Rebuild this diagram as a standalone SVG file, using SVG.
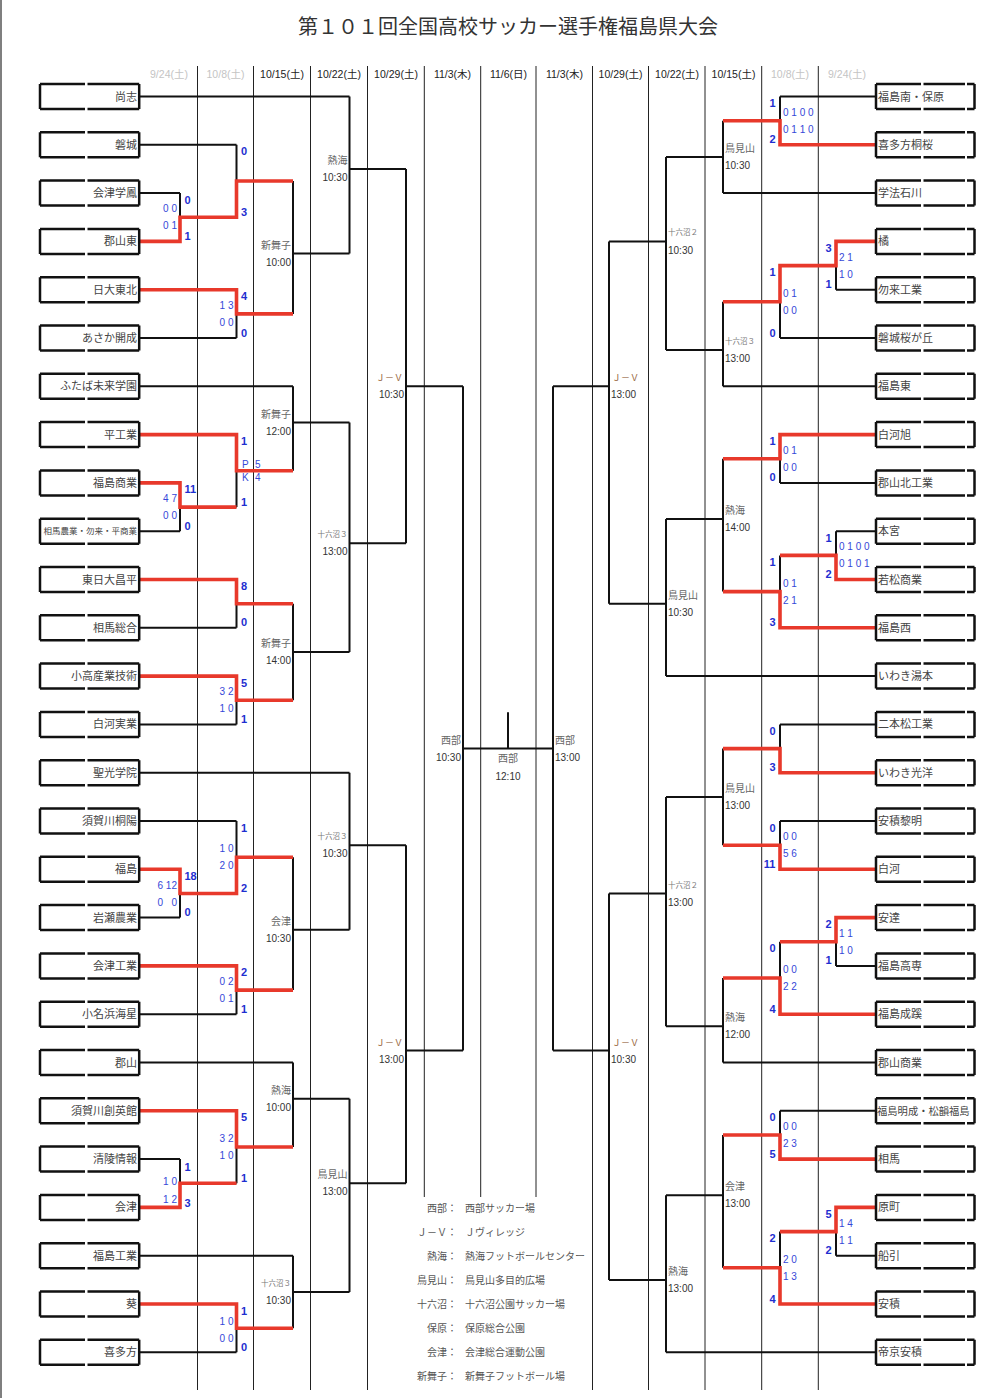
<svg xmlns="http://www.w3.org/2000/svg" xmlns:xlink="http://www.w3.org/1999/xlink" width="1006" height="1398" viewBox="0 0 1006 1398">
<style>
.jp{font-family:"Noto Sans CJK JP","Noto Sans",sans-serif}
.num{font-family:"Liberation Sans","Noto Sans CJK JP",sans-serif}
.title{font-size:20px;fill:#333;text-anchor:middle}
.hd{font-size:10.5px;fill:#222;text-anchor:middle}
.hdg{font-size:10.5px;fill:#c4c4c4;text-anchor:middle}
.tl{font-size:11px;fill:#444;text-anchor:end}
.tr{font-size:11px;fill:#444;text-anchor:start}
.box{fill:none;stroke:#111;stroke-width:2.5}
.col{stroke:#222;stroke-width:1;fill:none}
.blk{stroke:#111;stroke-width:2;fill:none}
.red{stroke:#e8392b;stroke-width:3.6;fill:none;stroke-linejoin:miter}
.sc{font-size:11px;font-weight:bold;fill:#1e2ed0}
.hf{font-size:10px;fill:#3547d8}
.ve{font-size:10px;fill:#666}
.vs{font-size:7.5px;fill:#777}
.tm{font-size:10px;fill:#333}
.jv{font-size:9px;fill:#9a6b45}
.lg{font-size:10px;fill:#555}
.L{text-anchor:end}
.R{text-anchor:start}
.C{text-anchor:middle}
</style>
<defs>
<path id="boxL" class="box" d="M40,-12.5V12.5M139.2,-12.5V12.5M40,-12.5H85M87.5,-12.5H139.2M40,12.5H85M87.5,12.5H139.2"/>
<path id="boxR" class="box" d="M876,-12.5V12.5M974.5,-12.5V12.5M876,-12.5H921M923.5,-12.5H965M967,-12.5H974.5M876,12.5H921M923.5,12.5H965M967,12.5H974.5"/>
</defs>
<rect x="0" y="0" width="1006" height="1398" fill="#fff"/>
<line x1="1" y1="0" x2="1" y2="1398" stroke="#555" stroke-width="1.5"/>
<text class="jp title" x="508" y="34">第１０１回全国高校サッカー選手権福島県大会</text>
<g id="header" class="num">
<text class="hdg" x="169" y="78">9/24(土)</text>
<text class="hdg" x="225.5" y="78">10/8(土)</text>
<text class="hd" x="282" y="78">10/15(土)</text>
<text class="hd" x="339" y="78">10/22(土)</text>
<text class="hd" x="396" y="78">10/29(土)</text>
<text class="hd" x="452.5" y="78">11/3(木)</text>
<text class="hd" x="508.5" y="78">11/6(日)</text>
<text class="hd" x="564.5" y="78">11/3(木)</text>
<text class="hd" x="620.5" y="78">10/29(土)</text>
<text class="hd" x="677" y="78">10/22(土)</text>
<text class="hd" x="733.5" y="78">10/15(土)</text>
<text class="hdg" x="790" y="78">10/8(土)</text>
<text class="hdg" x="847" y="78">9/24(土)</text>
</g>
<g id="columns" class="col">
<line x1="197.5" y1="66" x2="197.5" y2="1390"/>
<line x1="253.5" y1="66" x2="253.5" y2="1390"/>
<line x1="310.5" y1="66" x2="310.5" y2="1390"/>
<line x1="367.5" y1="66" x2="367.5" y2="1390"/>
<line x1="424.3" y1="66" x2="424.3" y2="1197"/>
<line x1="480.7" y1="66" x2="480.7" y2="1197"/>
<line x1="536" y1="66" x2="536" y2="1197"/>
<line x1="592.5" y1="66" x2="592.5" y2="1390"/>
<line x1="648.5" y1="66" x2="648.5" y2="1390"/>
<line x1="705" y1="66" x2="705" y2="1390"/>
<line x1="761.7" y1="66" x2="761.7" y2="1390"/>
<line x1="818.3" y1="66" x2="818.3" y2="1390"/>
</g>
<g id="connectors">
<path class="blk" d="M140,96.5H349.5M140,144.8H236.5M140,193.1H180M140,241.4H180M140,289.7H236.5M140,338H236.5M140,386.3H293M140,434.6H236.5M140,482.9H180M140,531.2H180M140,579.5H236.5M140,627.8H236.5M140,676.1H236.5M140,724.4H236.5M140,772.7H349.5M140,821H236.5M140,869.3H180M140,917.6H180M140,965.9H236.5M140,1014.2H236.5M140,1062.5H293M140,1110.8H236.5M140,1159.1H180M140,1207.4H180M140,1255.7H293M140,1304H236.5M140,1352.3H236.5
M180,193.1V241.4M180,217.3H236.5M180,482.9V531.2M180,507.1H236.5M180,869.3V917.6M180,893.5H236.5M180,1159.1V1207.4M180,1183.3H236.5
M236.5,144.8V217.3M236.5,181H293M236.5,289.7V338M236.5,313.9H293M236.5,434.6V507.1M236.5,470.8H293M236.5,579.5V627.8M236.5,603.7H293M236.5,676.1V724.4M236.5,700.3H293M236.5,821V893.5M236.5,857.2H293M236.5,965.9V1014.2M236.5,990.1H293M236.5,1110.8V1183.3M236.5,1147H293M236.5,1304V1352.3M236.5,1328.2H293
M293,181V313.9M293,253.5H349.5M293,386.3V470.8M293,422.5H349.5M293,603.7V700.3M293,652H349.5M293,857.2V990.1M293,929.7H349.5M293,1062.5V1147M293,1098.7H349.5M293,1255.7V1328.2M293,1291.9H349.5
M349.5,96.5V253.5M349.5,169H406M349.5,422.5V652M349.5,543.3H406M349.5,772.7V929.7M349.5,845.2H406M349.5,1098.7V1291.9M349.5,1183.3H406
M406,169V543.3M406,386.3H463M406,845.2V1183.3M406,1050.4H463
M463,386.3V1050.4M463,748.6H553M508,712.3V748.6M553,386.3V1050.4
M609,241.4V603.7M609,386.3H553M609,893.5V1279.9M609,1050.4H553
M666,156.9V350.1M666,241.4H609M666,519.1V676.1M666,603.7H609M666,796.9V1026.3M666,893.5H609M666,1195.3V1352.3M666,1279.9H609
M723,120.7V193.1M723,156.9H666M723,301.8V386.3M723,350.1H666M723,458.8V591.6M723,519.1H666M723,748.6V845.2M723,796.9H666M723,978V1062.5M723,1026.3H666M723,1135V1267.8M723,1195.3H666
M780,96.5V144.8M780,120.7H723M780,265.6V338M780,301.8H723M780,434.6V482.9M780,458.8H723M780,555.4V627.8M780,591.6H723M780,724.4V772.7M780,748.6H723M780,821V869.3M780,845.2H723M780,941.8V1014.2M780,978H723M780,1110.8V1159.1M780,1135H723M780,1231.6V1304M780,1267.8H723
M836,241.4V289.7M836,265.6H780M836,531.2V579.5M836,555.4H780M836,917.6V965.9M836,941.8H780M836,1207.4V1255.7M836,1231.6H780
M876,96.5H780M876,144.8H780M876,193.1H723M876,241.4H836M876,289.7H836M876,338H780M876,386.3H723M876,434.6H780M876,482.9H780M876,531.2H836M876,579.5H836M876,627.8H780M876,676.1H666M876,724.4H780M876,772.7H780M876,821H780M876,869.3H780M876,917.6H836M876,965.9H836M876,1014.2H780M876,1062.5H723M876,1110.8H780M876,1159.1H780M876,1207.4H836M876,1255.7H836M876,1304H780M876,1352.3H666"/>
<path class="red" d="M140,241.4H180V217.3H236.5V181H293
M140,289.7H236.5V313.9H293
M140,434.6H236.5V470.8H293
M140,482.9H180V507.1H236.5
M140,579.5H236.5V603.7H293
M140,676.1H236.5V700.3H293
M140,869.3H180V893.5H236.5V857.2H293
M140,965.9H236.5V990.1H293
M140,1110.8H236.5V1147H293
M140,1207.4H180V1183.3H236.5
M140,1304H236.5V1328.2H293
M876,144.8H780V120.7H723
M876,241.4H836V265.6H780V301.8H723
M876,434.6H780V458.8H723
M876,579.5H836V555.4H780
M876,627.8H780V591.6H723
M876,772.7H780V748.6H723
M876,869.3H780V845.2H723
M876,917.6H836V941.8H780
M876,1014.2H780V978H723
M876,1159.1H780V1135H723
M876,1207.4H836V1231.6H780
M876,1304H780V1267.8H723"/>
</g>
<g id="teams-left" class="jp">
<g id="L01"><use xlink:href="#boxL" transform="translate(0,96.5)"/><text class="tl" x="137" y="100.5">尚志</text></g>
<g id="L02"><use xlink:href="#boxL" transform="translate(0,144.8)"/><text class="tl" x="137" y="148.8">磐城</text></g>
<g id="L03"><use xlink:href="#boxL" transform="translate(0,193.1)"/><text class="tl" x="137" y="197.1">会津学鳳</text></g>
<g id="L04"><use xlink:href="#boxL" transform="translate(0,241.4)"/><text class="tl" x="137" y="245.4">郡山東</text></g>
<g id="L05"><use xlink:href="#boxL" transform="translate(0,289.7)"/><text class="tl" x="137" y="293.7">日大東北</text></g>
<g id="L06"><use xlink:href="#boxL" transform="translate(0,338)"/><text class="tl" x="137" y="342">あさか開成</text></g>
<g id="L07"><use xlink:href="#boxL" transform="translate(0,386.3)"/><text class="tl" x="137" y="390.3">ふたば未来学園</text></g>
<g id="L08"><use xlink:href="#boxL" transform="translate(0,434.6)"/><text class="tl" x="137" y="438.6">平工業</text></g>
<g id="L09"><use xlink:href="#boxL" transform="translate(0,482.9)"/><text class="tl" x="137" y="486.9">福島商業</text></g>
<g id="L10"><use xlink:href="#boxL" transform="translate(0,531.2)"/><text class="tl" x="137" y="534.4" style="font-size:8.5px">相馬農業・勿来・平商業</text></g>
<g id="L11"><use xlink:href="#boxL" transform="translate(0,579.5)"/><text class="tl" x="137" y="583.5">東日大昌平</text></g>
<g id="L12"><use xlink:href="#boxL" transform="translate(0,627.8)"/><text class="tl" x="137" y="631.8">相馬総合</text></g>
<g id="L13"><use xlink:href="#boxL" transform="translate(0,676.1)"/><text class="tl" x="137" y="680.1">小高産業技術</text></g>
<g id="L14"><use xlink:href="#boxL" transform="translate(0,724.4)"/><text class="tl" x="137" y="728.4">白河実業</text></g>
<g id="L15"><use xlink:href="#boxL" transform="translate(0,772.7)"/><text class="tl" x="137" y="776.7">聖光学院</text></g>
<g id="L16"><use xlink:href="#boxL" transform="translate(0,821)"/><text class="tl" x="137" y="825">須賀川桐陽</text></g>
<g id="L17"><use xlink:href="#boxL" transform="translate(0,869.3)"/><text class="tl" x="137" y="873.3">福島</text></g>
<g id="L18"><use xlink:href="#boxL" transform="translate(0,917.6)"/><text class="tl" x="137" y="921.6">岩瀬農業</text></g>
<g id="L19"><use xlink:href="#boxL" transform="translate(0,965.9)"/><text class="tl" x="137" y="969.9">会津工業</text></g>
<g id="L20"><use xlink:href="#boxL" transform="translate(0,1014.2)"/><text class="tl" x="137" y="1018.2">小名浜海星</text></g>
<g id="L21"><use xlink:href="#boxL" transform="translate(0,1062.5)"/><text class="tl" x="137" y="1066.5">郡山</text></g>
<g id="L22"><use xlink:href="#boxL" transform="translate(0,1110.8)"/><text class="tl" x="137" y="1114.8">須賀川創英館</text></g>
<g id="L23"><use xlink:href="#boxL" transform="translate(0,1159.1)"/><text class="tl" x="137" y="1163.1">清陵情報</text></g>
<g id="L24"><use xlink:href="#boxL" transform="translate(0,1207.4)"/><text class="tl" x="137" y="1211.4">会津</text></g>
<g id="L25"><use xlink:href="#boxL" transform="translate(0,1255.7)"/><text class="tl" x="137" y="1259.7">福島工業</text></g>
<g id="L26"><use xlink:href="#boxL" transform="translate(0,1304)"/><text class="tl" x="137" y="1308">葵</text></g>
<g id="L27"><use xlink:href="#boxL" transform="translate(0,1352.3)"/><text class="tl" x="137" y="1356.3">喜多方</text></g>
</g>
<g id="teams-right" class="jp">
<g id="R01"><use xlink:href="#boxR" transform="translate(0,96.5)"/><text class="tr" x="878" y="100.5">福島南・保原</text></g>
<g id="R02"><use xlink:href="#boxR" transform="translate(0,144.8)"/><text class="tr" x="878" y="148.8">喜多方桐桜</text></g>
<g id="R03"><use xlink:href="#boxR" transform="translate(0,193.1)"/><text class="tr" x="878" y="197.1">学法石川</text></g>
<g id="R04"><use xlink:href="#boxR" transform="translate(0,241.4)"/><text class="tr" x="878" y="245.4">橘</text></g>
<g id="R05"><use xlink:href="#boxR" transform="translate(0,289.7)"/><text class="tr" x="878" y="293.7">勿来工業</text></g>
<g id="R06"><use xlink:href="#boxR" transform="translate(0,338)"/><text class="tr" x="878" y="342">磐城桜が丘</text></g>
<g id="R07"><use xlink:href="#boxR" transform="translate(0,386.3)"/><text class="tr" x="878" y="390.3">福島東</text></g>
<g id="R08"><use xlink:href="#boxR" transform="translate(0,434.6)"/><text class="tr" x="878" y="438.6">白河旭</text></g>
<g id="R09"><use xlink:href="#boxR" transform="translate(0,482.9)"/><text class="tr" x="878" y="486.9">郡山北工業</text></g>
<g id="R10"><use xlink:href="#boxR" transform="translate(0,531.2)"/><text class="tr" x="878" y="535.2">本宮</text></g>
<g id="R11"><use xlink:href="#boxR" transform="translate(0,579.5)"/><text class="tr" x="878" y="583.5">若松商業</text></g>
<g id="R12"><use xlink:href="#boxR" transform="translate(0,627.8)"/><text class="tr" x="878" y="631.8">福島西</text></g>
<g id="R13"><use xlink:href="#boxR" transform="translate(0,676.1)"/><text class="tr" x="878" y="680.1">いわき湯本</text></g>
<g id="R14"><use xlink:href="#boxR" transform="translate(0,724.4)"/><text class="tr" x="878" y="728.4">二本松工業</text></g>
<g id="R15"><use xlink:href="#boxR" transform="translate(0,772.7)"/><text class="tr" x="878" y="776.7">いわき光洋</text></g>
<g id="R16"><use xlink:href="#boxR" transform="translate(0,821)"/><text class="tr" x="878" y="825">安積黎明</text></g>
<g id="R17"><use xlink:href="#boxR" transform="translate(0,869.3)"/><text class="tr" x="878" y="873.3">白河</text></g>
<g id="R18"><use xlink:href="#boxR" transform="translate(0,917.6)"/><text class="tr" x="878" y="921.6">安達</text></g>
<g id="R19"><use xlink:href="#boxR" transform="translate(0,965.9)"/><text class="tr" x="878" y="969.9">福島高専</text></g>
<g id="R20"><use xlink:href="#boxR" transform="translate(0,1014.2)"/><text class="tr" x="878" y="1018.2">福島成蹊</text></g>
<g id="R21"><use xlink:href="#boxR" transform="translate(0,1062.5)"/><text class="tr" x="878" y="1066.5">郡山商業</text></g>
<g id="R22"><use xlink:href="#boxR" transform="translate(0,1110.8)"/><text class="tr" x="877" y="1114.6" style="font-size:10.3px">福島明成・松韻福島</text></g>
<g id="R23"><use xlink:href="#boxR" transform="translate(0,1159.1)"/><text class="tr" x="878" y="1163.1">相馬</text></g>
<g id="R24"><use xlink:href="#boxR" transform="translate(0,1207.4)"/><text class="tr" x="878" y="1211.4">原町</text></g>
<g id="R25"><use xlink:href="#boxR" transform="translate(0,1255.7)"/><text class="tr" x="878" y="1259.7">船引</text></g>
<g id="R26"><use xlink:href="#boxR" transform="translate(0,1304)"/><text class="tr" x="878" y="1308">安積</text></g>
<g id="R27"><use xlink:href="#boxR" transform="translate(0,1352.3)"/><text class="tr" x="878" y="1356.3">帝京安積</text></g>
</g>
<g id="scores" class="num">
<g class="sc R">
<text x="184.5" y="203.6">0</text><text x="184.5" y="239.9">1</text>
<text x="184.5" y="493.4">11</text><text x="184.5" y="529.7">0</text>
<text x="184.5" y="879.8">18</text><text x="184.5" y="916.1">0</text>
<text x="184.5" y="1170.6">1</text><text x="184.5" y="1206.9">3</text>
<text x="241" y="155.3">0</text><text x="241" y="215.8">3</text>
<text x="241" y="300.2">4</text><text x="241" y="336.5">0</text>
<text x="241" y="445.1">1</text><text x="241" y="505.6">1</text>
<text x="241" y="590">8</text><text x="241" y="626.3">0</text>
<text x="241" y="686.6">5</text><text x="241" y="722.9">1</text>
<text x="241" y="831.5">1</text><text x="241" y="892">2</text>
<text x="241" y="976.4">2</text><text x="241" y="1012.7">1</text>
<text x="241" y="1121.3">5</text><text x="241" y="1181.8">1</text>
<text x="241" y="1314.5">1</text><text x="241" y="1350.8">0</text>
</g>
<g class="sc L">
<text x="775.5" y="107">1</text><text x="775.5" y="143.3">2</text>
<text x="775.5" y="276.1">1</text><text x="775.5" y="336.5">0</text>
<text x="775.5" y="445.1">1</text><text x="775.5" y="481.4">0</text>
<text x="775.5" y="565.9">1</text><text x="775.5" y="626.3">3</text>
<text x="775.5" y="734.9">0</text><text x="775.5" y="771.2">3</text>
<text x="775.5" y="831.5">0</text><text x="775.5" y="867.8">11</text>
<text x="775.5" y="952.3">0</text><text x="775.5" y="1012.7">4</text>
<text x="775.5" y="1121.3">0</text><text x="775.5" y="1157.6">5</text>
<text x="775.5" y="1242.1">2</text><text x="775.5" y="1302.5">4</text>
<text x="831.5" y="251.9">3</text><text x="831.5" y="288.2">1</text>
<text x="831.5" y="541.7">1</text><text x="831.5" y="578">2</text>
<text x="831.5" y="928.1">2</text><text x="831.5" y="964.4">1</text>
<text x="831.5" y="1217.9">5</text><text x="831.5" y="1254.2">2</text>
</g>
<g class="hf L">
<text x="177" y="212.3">0 0</text><text x="177" y="229.3">0 1</text>
<text x="177" y="502.1">4 7</text><text x="177" y="519.1">0 0</text>
<text x="177" y="888.5">6 12</text><text x="177" y="905.5" xml:space="preserve">0   0</text>
<text x="177" y="1184.8">1 0</text><text x="177" y="1202.5">1 2</text>
<text x="233.5" y="308.9">1 3</text><text x="233.5" y="325.9">0 0</text>
<text x="233.5" y="695.3">3 2</text><text x="233.5" y="712.3">1 0</text>
<text x="233.5" y="852.2">1 0</text><text x="233.5" y="869.2">2 0</text>
<text x="233.5" y="985.1">0 2</text><text x="233.5" y="1002.1">0 1</text>
<text x="233.5" y="1142">3 2</text><text x="233.5" y="1159">1 0</text>
<text x="233.5" y="1324.5">1 0</text><text x="233.5" y="1341.5">0 0</text>
</g>
<g class="hf R">
<text x="242" y="468.4">P</text><text x="255" y="468.4">5</text>
<text x="242" y="481">K</text><text x="255" y="481">4</text>
<text x="783" y="115.7">0 1 0 0</text><text x="783" y="132.7">0 1 1 0</text>
<text x="783" y="296.8">0 1</text><text x="783" y="313.8">0 0</text>
<text x="783" y="453.8">0 1</text><text x="783" y="470.8">0 0</text>
<text x="783" y="586.6">0 1</text><text x="783" y="603.6">2 1</text>
<text x="783" y="840.2">0 0</text><text x="783" y="857.2">5 6</text>
<text x="783" y="973">0 0</text><text x="783" y="990">2 2</text>
<text x="783" y="1130">0 0</text><text x="783" y="1147">2 3</text>
<text x="783" y="1262.8">2 0</text><text x="783" y="1279.8">1 3</text>
<text x="839" y="260.6">2 1</text><text x="839" y="277.6">1 0</text>
<text x="839" y="550.4">0 1 0 0</text><text x="839" y="567.4">0 1 0 1</text>
<text x="839" y="936.8">1 1</text><text x="839" y="953.8">1 0</text>
<text x="839" y="1226.6">1 4</text><text x="839" y="1243.6">1 1</text>
</g>
</g>
<g id="venues" class="jp">
<g class="L">
<text class="ve" x="291" y="248.6">新舞子</text><text class="tm num" x="291" y="265.6">10:00</text>
<text class="ve" x="291" y="417.6">新舞子</text><text class="tm num" x="291" y="434.6">12:00</text>
<text class="ve" x="291" y="647.1">新舞子</text><text class="tm num" x="291" y="664.1">14:00</text>
<text class="ve" x="291" y="924.8">会津</text><text class="tm num" x="291" y="941.8">10:30</text>
<text class="ve" x="291" y="1093.8">熱海</text><text class="tm num" x="291" y="1110.8">10:00</text>
<text class="vs" x="291" y="1285.9">十六沼３</text><text class="tm num" x="291" y="1304">10:30</text>
<text class="ve" x="347.5" y="164.1">熱海</text><text class="tm num" x="347.5" y="181.1">10:30</text>
<text class="vs" x="347.5" y="537.3">十六沼３</text><text class="tm num" x="347.5" y="555.4">13:00</text>
<text class="vs" x="347.5" y="839.2">十六沼３</text><text class="tm num" x="347.5" y="857.3">10:30</text>
<text class="ve" x="347.5" y="1178.4">鳥見山</text><text class="tm num" x="347.5" y="1195.4">13:00</text>
<text class="jv" x="403" y="381.4">Ｊ－Ｖ</text><text class="tm num" x="404" y="398.4">10:30</text>
<text class="jv" x="403" y="1045.5">Ｊ－Ｖ</text><text class="tm num" x="404" y="1062.5">13:00</text>
<text class="ve" x="461" y="743.7">西部</text><text class="tm num" x="461" y="760.7">10:30</text>
</g>
<g class="C">
<text class="ve" x="508" y="761.5">西部</text><text class="tm num" x="508" y="779.5">12:10</text>
</g>
<g class="R">
<text class="ve" x="555" y="743.7">西部</text><text class="tm num" x="555" y="760.7">13:00</text>
<text class="jv" x="612" y="381.4">Ｊ－Ｖ</text><text class="tm num" x="611" y="398.4">13:00</text>
<text class="jv" x="612" y="1045.5">Ｊ－Ｖ</text><text class="tm num" x="611" y="1062.5">10:30</text>
<text class="vs" x="668" y="235.4">十六沼２</text><text class="tm num" x="668" y="253.5">10:30</text>
<text class="ve" x="668" y="598.8">鳥見山</text><text class="tm num" x="668" y="615.8">10:30</text>
<text class="vs" x="668" y="887.5">十六沼２</text><text class="tm num" x="668" y="905.6">13:00</text>
<text class="ve" x="668" y="1275">熱海</text><text class="tm num" x="668" y="1292">13:00</text>
<text class="ve" x="725" y="152">鳥見山</text><text class="tm num" x="725" y="169">10:30</text>
<text class="vs" x="725" y="344.1">十六沼３</text><text class="tm num" x="725" y="362.2">13:00</text>
<text class="ve" x="725" y="514.2">熱海</text><text class="tm num" x="725" y="531.2">14:00</text>
<text class="ve" x="725" y="792">鳥見山</text><text class="tm num" x="725" y="809">13:00</text>
<text class="ve" x="725" y="1021.4">熱海</text><text class="tm num" x="725" y="1038.4">12:00</text>
<text class="ve" x="725" y="1190.4">会津</text><text class="tm num" x="725" y="1207.4">13:00</text>
</g>
</g>
<g id="legend" class="jp lg">
<g class="L">
<text x="457" y="1211.5">西部：</text>
<text x="457" y="1235.5">Ｊ－Ｖ：</text>
<text x="457" y="1259.5">熱海：</text>
<text x="457" y="1283.5">鳥見山：</text>
<text x="457" y="1307.5">十六沼：</text>
<text x="457" y="1331.5">保原：</text>
<text x="457" y="1356">会津：</text>
<text x="457" y="1380">新舞子：</text>
</g>
<g class="R">
<text x="465" y="1211.5">西部サッカー場</text>
<text x="465" y="1235.5">Ｊヴィレッジ</text>
<text x="465" y="1259.5">熱海フットボールセンター</text>
<text x="465" y="1283.5">鳥見山多目的広場</text>
<text x="465" y="1307.5">十六沼公園サッカー場</text>
<text x="465" y="1331.5">保原総合公園</text>
<text x="465" y="1356">会津総合運動公園</text>
<text x="465" y="1380">新舞子フットボール場</text>
</g>
</g>
</svg>
